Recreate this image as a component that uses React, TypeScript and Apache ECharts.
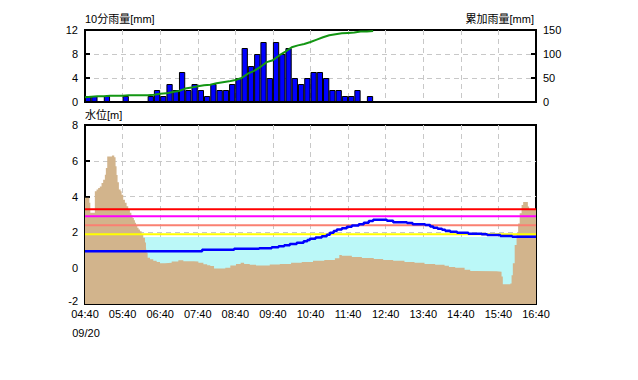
import React, { useEffect, useRef } from 'react';
import * as echarts from 'echarts';

// ---- data ----
const xLabels = ['04:40', '05:40', '06:40', '07:40', '08:40', '09:40', '10:40', '11:40', '12:40', '13:40', '14:40', '15:40', '16:40'];
const dateLabel = '09/20';

// 10-minute rainfall [mm], one value per 10 minutes from 04:40
const rain10 = [1, 1, 0, 1, 0, 0, 1, 0, 0, 0, 1, 2, 1, 3, 2, 5, 2, 3, 2, 1, 3, 2, 2, 3, 4, 9, 6, 8, 10, 4, 10, 8, 9, 4, 3, 4, 5, 5, 4, 2, 2, 1, 1, 2, 0, 1];
// cumulative rainfall [mm] at the end of each 10-minute step
const cumStart = 10;
const cumRain = [11, 12, 12, 13, 13, 13, 14, 14, 14, 14, 15, 17, 18, 21, 23, 28, 30, 33, 35, 36, 39, 41, 43, 46, 50, 59, 65, 73, 83, 87, 97, 105, 114, 118, 121, 125, 130, 135, 139, 141, 143, 144, 145, 147, 147, 148];

// ground profile (minutes from 04:40, level m)
const groundTimes = [0, 7, 8.5, 15.7, 18.4, 21, 23.7, 26.4, 29, 31.7, 33.3, 35.5, 43, 46.7, 48.8, 50.4, 52, 54.1, 56.8, 58.4, 61, 63.7, 66.4, 69, 71.7, 74, 76, 78, 79.7, 81.5, 83.5, 85.5, 87.7, 90.4, 93, 95.7, 97.3, 98.4, 100, 103.7, 109, 114.4, 119.7, 127.7, 138.4, 149, 157, 173, 181, 189, 195, 200, 206, 224, 232, 241, 248.5, 254, 263, 273, 295, 311, 329, 346, 364, 382, 399, 406, 410, 426, 442, 461, 476, 492, 510, 526, 542, 559, 574, 581, 591, 606, 615, 623, 657, 665, 667, 679, 681, 683, 686, 689, 691.5, 694, 697, 699.5, 707, 709, 720];
const groundLevels = [3.93, 3.65, 3.1, 4.3, 4.39, 4.48, 4.57, 4.76, 4.94, 5.22, 5.6, 6.24, 6.3, 6.2, 5.7, 5.2, 4.8, 4.4, 4.3, 4.1, 3.83, 3.65, 3.46, 3.28, 3.1, 2.95, 2.81, 2.68, 2.54, 2.4, 2.26, 2.16, 2.07, 1.89, 1.7, 1.43, 1.15, 0.87, 0.59, 0.5, 0.41, 0.35, 0.28, 0.31, 0.37, 0.44, 0.39, 0.37, 0.3, 0.22, 0.16, 0.12, -0.02, 0.02, 0.15, 0.24, 0.3, 0.24, 0.19, 0.15, 0.2, 0.24, 0.3, 0.35, 0.41, 0.46, 0.56, 0.74, 0.69, 0.63, 0.57, 0.52, 0.46, 0.41, 0.35, 0.3, 0.24, 0.19, 0.13, 0.07, 0.02, -0.09, -0.15, -0.17, -0.2, -0.47, -0.9, -0.85, -0.4, 0.28, 1.3, 1.95, 2.5, 3.07, 3.53, 3.7, 3.45, 3.3, 3.3];

// water level (minutes from 04:40, level m)
const levelTimes = [0, 187, 238, 278, 298, 309, 318, 327, 338, 349, 355, 359, 368, 378, 386, 391, 397, 402, 410, 418, 426, 437, 445, 453, 460, 482, 492, 514, 523, 543, 551, 556, 563, 570, 575, 583, 594, 612, 633, 642, 663, 682, 720];
const levelValues = [0.95, 1.03, 1.08, 1.12, 1.17, 1.22, 1.28, 1.35, 1.42, 1.5, 1.57, 1.65, 1.72, 1.78, 1.87, 1.98, 2.08, 2.16, 2.23, 2.31, 2.38, 2.46, 2.54, 2.63, 2.7, 2.65, 2.57, 2.52, 2.46, 2.41, 2.33, 2.26, 2.2, 2.15, 2.09, 2.04, 1.98, 1.93, 1.89, 1.85, 1.8, 1.76, 1.76];

const thresholdValues = [3.3, 2.9, 2.4, 1.9];
const waterSurface = 1.75;

// ---- styles ----
const thresholdColors = ['#ff0000', '#ff00ff', '#fa8072', '#ffff00'];
const FONT = '"Liberation Sans", "Noto Sans CJK JP", sans-serif';
const GRID_LINE = { show: true, showMinLine: false, showMaxLine: false, lineStyle: { color: '#c8c8c8', type: [5, 4] as any, width: 1 } };

export default function App() {
  const ref = useRef<HTMLDivElement>(null);

  useEffect(() => {
    document.body.style.margin = '0';
    if (!ref.current) return;
    const chart = echarts.init(ref.current, null, { renderer: 'svg' });

    const tickInside = { show: true, inside: true, length: 5, lineStyle: { color: '#000', width: 2 } };
    const axisLineBlack = { show: true, lineStyle: { color: '#000', width: 2 } };
    const yLabel = { color: '#000', fontSize: 11, fontFamily: FONT, margin: 7 };

    const option: any = {
      animation: false,
      grid: [
        { left: 85, top: 30, width: 451, height: 72, show: true, borderColor: '#000', borderWidth: 2, backgroundColor: '#fff' },
        { left: 85, top: 125, width: 451, height: 179, show: true, borderColor: '#000', borderWidth: 2, backgroundColor: '#fff' },
      ],
      xAxis: [
        {
          gridIndex: 0, type: 'value', min: 0, max: 720, interval: 60,
          axisLabel: { show: false }, axisTick: { show: false }, axisLine: axisLineBlack, splitLine: GRID_LINE,
        },
        {
          gridIndex: 1, type: 'value', min: 0, max: 720, interval: 60,
          axisTick: { show: false }, axisLine: axisLineBlack, splitLine: GRID_LINE,
          axisLabel: {
            color: '#000', fontSize: 11, fontFamily: FONT, margin: 4,
            formatter: (v: number) => xLabels[Math.round(v / 60)] ?? '',
          },
        },
      ],
      yAxis: [
        {
          gridIndex: 0, type: 'value', min: 0, max: 12, interval: 4, position: 'left',
          axisLine: axisLineBlack, axisTick: tickInside, axisLabel: yLabel, splitLine: GRID_LINE,
        },
        {
          gridIndex: 0, type: 'value', min: 0, max: 150, interval: 50, position: 'right',
          axisLine: axisLineBlack, axisTick: tickInside, axisLabel: yLabel, splitLine: { show: false },
        },
        {
          gridIndex: 1, type: 'value', min: -2, max: 8, interval: 2, position: 'left',
          axisLine: axisLineBlack, axisTick: tickInside, splitLine: GRID_LINE,
          axisLabel: {
            ...yLabel,
            formatter: (v: number) => (v === -2 ? '{low|-2}' : String(v)),
            rich: { low: { fontSize: 11, fontFamily: FONT, color: '#000', padding: [0, 0, 6, 0] } },
          },
        },
      ],
      series: [
        {
          type: 'bar', xAxisIndex: 0, yAxisIndex: 0, silent: true,
          barWidth: 451 / 72,
          data: rain10.map((v, i) => [i * 10 + 5, v]),
          itemStyle: { color: '#0000ff', borderColor: '#000', borderWidth: 1 },
        },
        {
          type: 'line', xAxisIndex: 0, yAxisIndex: 1, silent: true, symbol: 'none',
          data: [[0, cumStart], ...cumRain.map((v, i) => [(i + 1) * 10, v])],
          lineStyle: { color: '#139613', width: 2 },
        },
        {
          type: 'line', xAxisIndex: 1, yAxisIndex: 2, silent: true, symbol: 'none',
          data: [[0, waterSurface], [720, waterSurface]],
          lineStyle: { width: 0, opacity: 0 },
          areaStyle: { color: '#bbf8f8', opacity: 1, origin: 'start' },
        },
        {
          type: 'line', xAxisIndex: 1, yAxisIndex: 2, silent: true, symbol: 'none', step: 'end',
          data: groundTimes.map((t, i) => [t, groundLevels[i]]),
          lineStyle: { width: 0, opacity: 0 },
          areaStyle: { color: '#d2b48c', opacity: 1, origin: 'start' },
        },
        ...thresholdValues.map((v, i) => ({
          type: 'line', xAxisIndex: 1, yAxisIndex: 2, silent: true, symbol: 'none',
          data: [[0, v], [720, v]],
          lineStyle: { color: thresholdColors[i], width: 2 },
        })),
        {
          type: 'line', xAxisIndex: 1, yAxisIndex: 2, silent: true, symbol: 'none', step: 'end',
          data: levelTimes.map((t, i) => [t, levelValues[i]]),
          lineStyle: { color: '#0000ff', width: 2.5 },
        },
      ],
      graphic: [
        { type: 'text', x: 85, y: 19, style: { text: '10分雨量[mm]', font: `11px ${FONT}`, fill: '#000', textAlign: 'left', textVerticalAlign: 'middle', align: 'left', verticalAlign: 'middle' } },
        { type: 'text', x: 534, y: 19, style: { text: '累加雨量[mm]', font: `11px ${FONT}`, fill: '#000', textAlign: 'right', textVerticalAlign: 'middle', align: 'right', verticalAlign: 'middle' } },
        { type: 'text', x: 85, y: 115, style: { text: '水位[m]', font: `11px ${FONT}`, fill: '#000', textAlign: 'left', textVerticalAlign: 'middle', align: 'left', verticalAlign: 'middle' } },
        { type: 'text', x: 86, y: 333, style: { text: dateLabel, font: `11px ${FONT}`, fill: '#000', textAlign: 'center', textVerticalAlign: 'middle', align: 'center', verticalAlign: 'middle' } },
      ],
    };

    chart.setOption(option);
    return () => chart.dispose();
  }, []);

  return <div ref={ref} style={{ width: 638, height: 380 }} />;
}
